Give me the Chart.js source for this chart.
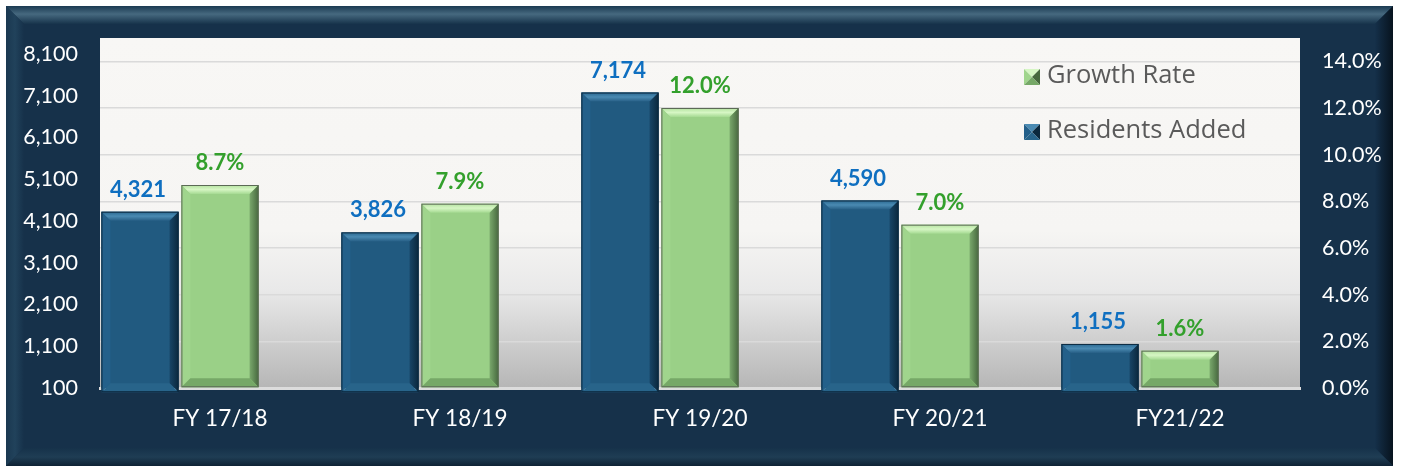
<!DOCTYPE html>
<html>
<head>
<meta charset="utf-8">
<script src="https://cdn.jsdelivr.net/npm/chart.js@4.4.1/dist/chart.umd.min.js"></script>
<style>
  html, body { margin: 0; padding: 0; background: #fff; }
  #wrap { width: 1403px; height: 468px; }
</style>
</head>
<body>
<div id="wrap"><canvas id="chart" width="1403" height="468"></canvas></div>
<script>
// data
const categories = ['FY 17/18', 'FY 18/19', 'FY 19/20', 'FY 20/21', 'FY21/22'];
const residentsAdded = [4321, 3826, 7174, 4590, 1155];
const growthRate = [8.7, 7.9, 12.0, 7.0, 1.6];
const leftTicks = [100, 1100, 2100, 3100, 4100, 5100, 6100, 7100, 8100];
const rightTicks = [0, 2, 4, 6, 8, 10, 12, 14];
const legendOrder = ['Growth Rate', 'Residents Added'];

const FONT = 'Lato, "Open Sans", sans-serif';

const BLUE = { base: '#215a80', top: ['#2a6890', '#4a8ab2', '#275f86'], left: '#24608a', right: ['#184566', '#0b283d'], bottom: '#28648a', edge: '#0c2a40' };
const GREEN = { base: '#9ad087', top: ['#b3e29f', '#d6f6c4', '#a5da92'], left: '#a0d58d', right: ['#7aa86c', '#46683d'], bottom: '#76a867', edge: '#5c6a56' };

// dark bevelled frame + plot area gradient
const framePlugin = {
  id: 'frame',
  beforeDraw(chart) {
    const ctx = chart.ctx;
    const W = chart.width, H = chart.height;
    const x0 = 6, y0 = 6, x1 = W - 10, y1 = H - 2, s = 18;
    ctx.save();
    ctx.fillStyle = '#fff';
    ctx.fillRect(0, 0, W, H);
    ctx.fillStyle = '#16314a';
    ctx.fillRect(x0, y0, x1 - x0, y1 - y0);

    const poly = (pts, fill) => {
      ctx.beginPath();
      ctx.moveTo(pts[0][0], pts[0][1]);
      for (let i = 1; i < pts.length; i++) ctx.lineTo(pts[i][0], pts[i][1]);
      ctx.closePath();
      ctx.fillStyle = fill;
      ctx.fill();
    };
    let g = ctx.createLinearGradient(0, y0, 0, y0 + s);
    g.addColorStop(0, '#1b3a52');
    g.addColorStop(0.45, '#46697f');
    g.addColorStop(1, '#17334b');
    poly([[x0, y0], [x1, y0], [x1 - s, y0 + s], [x0 + s, y0 + s]], g);
    g = ctx.createLinearGradient(x0, 0, x0 + s, 0);
    g.addColorStop(0, '#1a3850');
    g.addColorStop(0.5, '#21425b');
    g.addColorStop(1, '#16314a');
    poly([[x0, y0], [x0 + s, y0 + s], [x0 + s, y1 - s], [x0, y1]], g);
    g = ctx.createLinearGradient(x1 - s, 0, x1, 0);
    g.addColorStop(0, '#15304a');
    g.addColorStop(1, '#07131e');
    poly([[x1, y0], [x1, y1], [x1 - s, y1 - s], [x1 - s, y0 + s]], g);
    g = ctx.createLinearGradient(0, y1 - s, 0, y1);
    g.addColorStop(0, '#16324a');
    g.addColorStop(0.5, '#1f3d54');
    g.addColorStop(1, '#0e2234');
    poly([[x0, y1], [x0 + s, y1 - s], [x1 - s, y1 - s], [x1, y1]], g);

    const a = chart.chartArea;
    g = ctx.createLinearGradient(0, a.top, 0, a.bottom);
    g.addColorStop(0, '#f8f7f5');
    g.addColorStop(0.55, '#f6f5f3');
    g.addColorStop(0.72, '#e9e9e9');
    g.addColorStop(1, '#b6b6b6');
    ctx.fillStyle = g;
    ctx.fillRect(a.left, a.top, a.right - a.left, a.bottom - a.top);
    ctx.restore();
  }
};

function bevelBar(ctx, el, c) {
  const l = el.x - el.width / 2, r = el.x + el.width / 2;
  const t = Math.min(el.y, el.base), b = Math.max(el.y, el.base);
  const s = Math.min(9, (b - t) / 2);
  const poly = (pts, fill) => {
    ctx.beginPath();
    ctx.moveTo(pts[0][0], pts[0][1]);
    for (let i = 1; i < pts.length; i++) ctx.lineTo(pts[i][0], pts[i][1]);
    ctx.closePath();
    ctx.fillStyle = fill;
    ctx.fill();
  };
  let g = ctx.createLinearGradient(0, t, 0, t + s);
  g.addColorStop(0, c.top[0]);
  g.addColorStop(0.5, c.top[1]);
  g.addColorStop(1, c.top[2]);
  poly([[l, t], [r, t], [r - s, t + s], [l + s, t + s]], g);
  poly([[l, t], [l + s, t + s], [l + s, b - s], [l, b]], c.left);
  g = ctx.createLinearGradient(r - s, 0, r, 0);
  g.addColorStop(0, c.right[0]);
  g.addColorStop(1, c.right[1]);
  poly([[r, t], [r, b], [r - s, b - s], [r - s, t + s]], g);
  poly([[l, b], [l + s, b - s], [r - s, b - s], [r, b]], c.bottom);
  ctx.strokeStyle = c.edge;
  ctx.lineWidth = 1;
  ctx.strokeRect(l + 0.5, t + 0.5, r - l - 1, b - t - 1);
}

const bevelPlugin = {
  id: 'bevel',
  afterDatasetsDraw(chart) {
    const ctx = chart.ctx;
    ctx.save();
    [[0, BLUE], [1, GREEN]].forEach(([i, c]) => {
      chart.getDatasetMeta(i).data.forEach((el) => bevelBar(ctx, el, c));
    });
    ctx.restore();
  }
};

const labelPlugin = {
  id: 'valueLabels',
  afterDatasetsDraw(chart) {
    const ctx = chart.ctx;
    ctx.save();
    ctx.font = 'bold 22px ' + FONT;
    ctx.textAlign = 'center';
    ctx.textBaseline = 'middle';
    chart.getDatasetMeta(0).data.forEach((el, i) => {
      ctx.fillStyle = '#0f6fc0';
      ctx.fillText(residentsAdded[i].toLocaleString('en-US'), el.x - 2, el.y - 22);
    });
    chart.getDatasetMeta(1).data.forEach((el, i) => {
      ctx.fillStyle = '#33a02c';
      ctx.fillText(growthRate[i].toFixed(1) + '%', el.x, el.y - 22);
    });
    ctx.restore();
  }
};

const legendPlugin = {
  id: 'innerLegend',
  afterDraw(chart) {
    const ctx = chart.ctx;
    const a = chart.chartArea;
    const x = a.left + 924, y0 = a.top + 38, gap = 55;
    ctx.save();
    ctx.font = '25.5px "Open Sans", sans-serif';
    ctx.textBaseline = 'middle';
    legendOrder.forEach((name, i) => {
      const y = y0 + i * gap;
      const c = name === 'Growth Rate' ? GREEN : BLUE;
      const sz = 16, l = x, t = y - sz / 2 + 1;
      const poly = (pts, fill) => {
        ctx.beginPath();
        ctx.moveTo(pts[0][0], pts[0][1]);
        for (let k = 1; k < pts.length; k++) ctx.lineTo(pts[k][0], pts[k][1]);
        ctx.closePath();
        ctx.fillStyle = fill;
        ctx.fill();
      };
      const m = [l + sz / 2, t + sz / 2];
      poly([[l, t], [l + sz, t], m], c.top[1]);
      poly([[l, t], m, [l, t + sz]], c.left);
      poly([[l + sz, t], [l + sz, t + sz], m], c.right[1]);
      poly([[l, t + sz], m, [l + sz, t + sz]], c.bottom);
      ctx.fillStyle = '#5a5a5a';
      ctx.fillText(name, x + 23, y);
    });
    ctx.restore();
  }
};

const chart = new Chart(document.getElementById('chart'), {
  type: 'bar',
  data: {
    labels: categories,
    datasets: [
      { label: 'Residents Added', data: residentsAdded, yAxisID: 'y', backgroundColor: BLUE.base, borderWidth: 0 },
      { label: 'Growth Rate', data: growthRate, yAxisID: 'y1', backgroundColor: GREEN.base, borderWidth: 0 },
      { label: '', data: categories.map(() => null), yAxisID: 'y', backgroundColor: 'rgba(0,0,0,0)' },
    ],
  },
  options: {
    responsive: false,
    animation: false,
    devicePixelRatio: 1,
    layout: { padding: { top: 38, left: 0, right: 0, bottom: 0 } },
    datasets: { bar: { categoryPercentage: 1.0, barPercentage: 0.965 } },
    plugins: { legend: { display: false }, tooltip: { enabled: false } },
    scales: {
      x: {
        grid: { display: false, drawTicks: false },
        border: { display: true, color: '#dcdcdc', width: 3 },
        ticks: { color: '#ffffff', font: { family: FONT, size: 22.5 }, padding: 17 },
        afterFit(scale) { scale.height = 80; },
      },
      y: {
        position: 'left',
        min: 100,
        max: 8480,
        grid: { display: false, drawTicks: false },
        border: { display: false },
        afterBuildTicks(scale) { scale.ticks = leftTicks.map((v) => ({ value: v })); },
        ticks: {
          color: '#ffffff',
          font: { family: FONT, size: 21.5 },
          padding: 22,
          callback: (v) => Number(v).toLocaleString('en-US'),
        },
        afterFit(scale) { scale.width = 100; },
      },
      y1: {
        position: 'right',
        min: 0,
        max: 15,
        grid: { display: true, color: '#dadada', lineWidth: 1.5, drawTicks: false },
        border: { display: false },
        afterBuildTicks(scale) { scale.ticks = rightTicks.map((v) => ({ value: v })); },
        ticks: {
          color: '#ffffff',
          font: { family: FONT, size: 21.5 },
          padding: 22,
          callback: (v) => Number(v).toFixed(1) + '%',
        },
        afterFit(scale) { scale.width = 103; },
      },
    },
  },
  plugins: [framePlugin, bevelPlugin, labelPlugin, legendPlugin],
});
</script>
</body>
</html>
